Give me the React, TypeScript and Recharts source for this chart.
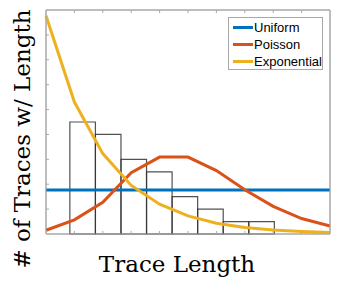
import { ComposedChart, Line, XAxis, YAxis, ReferenceArea } from "recharts";

const steps = [0, 1, 2, 3, 4, 5, 6, 7, 8, 9, 10];
const uniform = [1.77, 1.77, 1.77, 1.77, 1.77, 1.77, 1.77, 1.77, 1.77, 1.77, 1.77];
const poisson = [0.15, 0.57, 1.27, 2.46, 3.09, 3.09, 2.55, 1.78, 1.11, 0.62, 0.32];
const exponential = [8.77, 5.3, 3.23, 1.95, 1.2, 0.73, 0.43, 0.26, 0.16, 0.1, 0.06];

const binStarts = [0.84, 1.74, 2.64, 3.54, 4.44, 5.34, 6.24, 7.14];
const binEnds = [1.74, 2.64, 3.54, 4.44, 5.34, 6.24, 7.14, 8.04];
const binCounts = [4.5, 4, 3, 2.5, 1.5, 1, 0.5, 0.5];

const xTicks = [1, 2, 3, 4, 5, 6, 7, 8, 9];
const yTicks = [1, 2, 3, 4, 5, 6, 7, 8];

const seriesNames = ["Uniform", "Poisson", "Exponential"];
const seriesColors = ["#0072BD", "#D95319", "#EDB120"];

const data = steps.map((s, i) => ({
  step: s,
  uniform: uniform[i],
  poisson: poisson[i],
  exponential: exponential[i],
}));

const frame = "#a8a8a8";
const blank = () => "";

export default function App() {
  return (
    <div style={{ position: "relative", width: 339, height: 287, background: "#fff" }}>
      <style>{`body{margin:0}`}</style>
      <ComposedChart
        width={339}
        height={287}
        data={data}
        margin={{ top: 10, right: 9, bottom: 53, left: 46 }}
      >
        <XAxis
          dataKey="step"
          type="number"
          domain={[0, 10]}
          ticks={xTicks}
          height={1}
          mirror
          tickSize={3}
          tickFormatter={blank}
          stroke={frame}
        />
        <XAxis
          xAxisId="top"
          orientation="top"
          type="number"
          domain={[0, 10]}
          ticks={xTicks}
          height={1}
          mirror
          tickSize={3}
          tickFormatter={blank}
          stroke={frame}
        />
        <YAxis
          type="number"
          domain={[0, 9]}
          ticks={yTicks}
          width={1}
          mirror
          tickSize={3}
          tickFormatter={blank}
          stroke={frame}
        />
        <YAxis
          yAxisId="right"
          orientation="right"
          type="number"
          domain={[0, 9]}
          ticks={yTicks}
          width={1}
          mirror
          tickSize={3}
          tickFormatter={blank}
          stroke={frame}
        />
        <ReferenceArea
          x1={0}
          x2={10}
          y1={0}
          y2={9}
          fill="none"
          fillOpacity={0}
          stroke={frame}
          strokeWidth={1}
        />
        {binCounts.map((c, i) => (
          <ReferenceArea
            key={i}
            x1={binStarts[i]}
            x2={binEnds[i]}
            y1={0}
            y2={c}
            fill="none"
            fillOpacity={0}
            stroke="#333"
            strokeOpacity={0.85}
            strokeWidth={1.2}
          />
        ))}
        <Line dataKey="uniform" stroke={seriesColors[0]} strokeWidth={3} dot={false} isAnimationActive={false} />
        <Line dataKey="poisson" stroke={seriesColors[1]} strokeWidth={3} dot={false} isAnimationActive={false} />
        <Line dataKey="exponential" stroke={seriesColors[2]} strokeWidth={3} dot={false} isAnimationActive={false} />
      </ComposedChart>

      <div
        style={{
          position: "absolute",
          left: 228,
          top: 17,
          width: 93,
          height: 50,
          border: `1px solid ${frame}`,
          background: "#fff",
          fontFamily: "'Liberation Sans', Arial, sans-serif",
          fontSize: 13,
          paddingTop: 1,
        }}
      >
        {seriesNames.map((n, i) => (
          <div key={n} style={{ display: "flex", alignItems: "center", height: 17 }}>
            <span style={{ display: "inline-block", width: 20, height: 3, marginLeft: 4, marginRight: 1, background: seriesColors[i] }} />
            <span>{n}</span>
          </div>
        ))}
      </div>

      <div
        style={{
          position: "absolute",
          left: 22,
          top: 139,
          transform: "translate(-50%, -50%) rotate(-90deg)",
          whiteSpace: "nowrap",
          fontFamily: "'DejaVu Serif', serif",
          fontSize: 23,
        }}
      >
        # of Traces w/ Length
      </div>
      <div
        style={{
          position: "absolute",
          left: 177,
          top: 264,
          transform: "translate(-50%, -50%)",
          whiteSpace: "nowrap",
          fontFamily: "'DejaVu Serif', serif",
          fontSize: 23,
        }}
      >
        Trace Length
      </div>
    </div>
  );
}
